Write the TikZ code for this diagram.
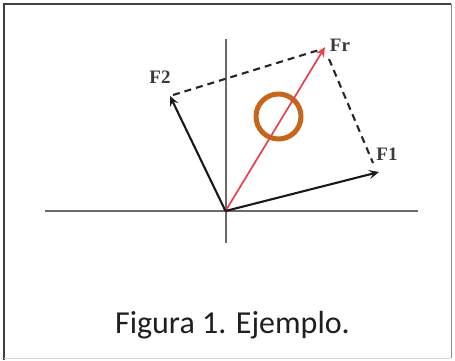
\documentclass[tikz,border=0pt]{standalone}
\usepackage{fontspec}
\setmainfont{Carlito}
\newfontfamily\lblfont{Liberation Serif}
\usetikzlibrary{arrows.meta}
\definecolor{axisgray}{HTML}{6A6A6A}
\definecolor{vecred}{HTML}{E8414A}
\definecolor{ringorange}{HTML}{C5661B}
\definecolor{lblgray}{HTML}{3A3A3A}
\tikzset{
  axisline/.style={draw=axisgray, line width=1.3pt},
  vecline/.style={draw=black!90, line width=2.1pt, -{Stealth[length=10pt,width=9pt,inset=4pt]}},
  resline/.style={draw=vecred, line width=1.7pt, -{Stealth[length=10pt,width=9pt,inset=3.5pt]}},
  dashline/.style={draw=black!85, line width=2.1pt, dash pattern=on 7pt off 5pt},
  forcelbl/.style={font=\lblfont\fontsize{19}{19}\selectfont\bfseries, text=lblgray, inner sep=0pt},
  caption/.style={font=\fontsize{32}{32}\selectfont, text=black!88, inner sep=0pt, anchor=base},
}
\begin{document}
\begin{tikzpicture}[x=1pt, y=-1pt]
\useasboundingbox (0,0) rectangle (455,360);
\fill[white] (0,0) rectangle (455,360);
% frame
\draw[black!75, line width=2pt] (4,360) -- (4,4) -- (451,4);
\draw[black!45, line width=1pt] (451,4) -- (451,358);
\draw[black!15, line width=1pt] (4,358.5) -- (451,358.5);
% axes
\coordinate (O) at (225.5,211);
\coordinate (xl) at (45,211);
\coordinate (xr) at (418,211);
\coordinate (yt) at (226,39);
\coordinate (yb) at (226,243);
\draw[axisline] (xl) -- (xr);
\draw[axisline] (yt) -- (yb);
% tips
\coordinate (F1) at (379,172);
\coordinate (F2) at (170,96);
\coordinate (Fr) at (325,47);
% dashed parallelogram sides
\coordinate (d1a) at (173,95);
\coordinate (d1b) at (319,50);
\coordinate (d2a) at (329,59);
\coordinate (d2b) at (373,163);
\draw[dashline] (d1a) -- (d1b);
\draw[dashline] (d2a) -- (d2b);
% ring
\node[draw=ringorange, line width=5pt, circle, minimum size=45pt, inner sep=0pt] (ring) at (278.5,116.5) {};
% vectors
\draw[resline] (O) -- (Fr);
\draw[vecline] (O) -- (F1);
\draw[vecline] (O) -- (F2);
% labels
\node[forcelbl] (lFr) at (340,45) {Fr};
\node[forcelbl] (lF1) at (387,154) {F1};
\node[forcelbl] (lF2) at (160,77) {F2};
% caption
\node[caption] (cap) at (232.5,333) {Figura 1. Ejemplo.};
\end{tikzpicture}
\end{document}
